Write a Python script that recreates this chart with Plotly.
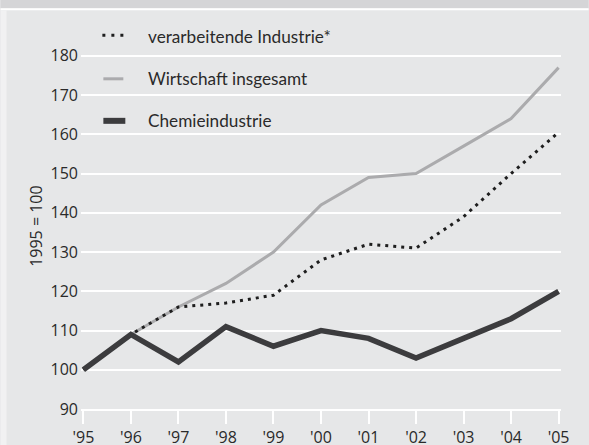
import plotly.graph_objects as go

years = [1995, 1996, 1997, 1998, 1999, 2000, 2001, 2002, 2003, 2004, 2005]
tick_labels = ["'95", "'96", "'97", "'98", "'99", "'00", "'01", "'02", "'03", "'04", "'05"]
y_ticks = [90, 100, 110, 120, 130, 140, 150, 160, 170, 180]

name_verarb = "verarbeitende Industrie*"
name_wirt = "Wirtschaft insgesamt"
name_chemie = "Chemieindustrie"

verarbeitende = [100, 109, 116, 117, 119, 128, 132, 131, 139, 150, 160.5]
wirtschaft = [100, 109, 116, 122, 130, 142, 149, 150, 157, 164, 177]
chemie = [100, 109, 102, 111, 106, 110, 108, 103, 108, 113, 120]

W, H = 589, 445
L, R_edge = 80.6, 561.4
T, B = 48.2, 409.0
PW, PH = R_edge - L, B - T


def px(x):
    return (x - L) / PW


def py(y):
    return (B - y) / PH


fig = go.Figure()
fig.add_trace(go.Scatter(x=years, y=wirtschaft, mode="lines", name=name_wirt,
                         line=dict(color="#ababad", width=3), showlegend=False))
fig.add_trace(go.Scatter(x=years, y=verarbeitende, mode="lines", name=name_verarb,
                         line=dict(color="#1e1e1e", width=3, dash="3px,5px"), showlegend=False))
fig.add_trace(go.Scatter(x=years, y=chemie, mode="lines", name=name_chemie,
                         line=dict(color="#3c3c3e", width=5.5), showlegend=False))

shapes = [
    dict(type="rect", xref="paper", yref="paper", x0=px(0), x1=px(W), y0=py(8.5), y1=py(0),
         fillcolor="#d5d5d7", line=dict(width=0), layer="below"),
    dict(type="rect", xref="paper", yref="paper", x0=px(0), x1=px(W), y0=py(10.5), y1=py(8.5),
         fillcolor="#ffffff", line=dict(width=0), layer="below"),
    dict(type="rect", xref="paper", yref="paper", x0=px(0), x1=px(6), y0=py(H), y1=py(10.5),
         fillcolor="#f1f1f2", line=dict(width=0), layer="below"),
    # legend symbols
    dict(type="line", xref="paper", yref="paper", x0=px(102), x1=px(124), y0=py(35.5), y1=py(35.5),
         line=dict(color="#1e1e1e", width=3, dash="3px,6px")),
    dict(type="line", xref="paper", yref="paper", x0=px(103), x1=px(123), y0=py(79), y1=py(79),
         line=dict(color="#ababad", width=3)),
    dict(type="line", xref="paper", yref="paper", x0=px(103), x1=px(125), y0=py(121), y1=py(121),
         line=dict(color="#3c3c3e", width=6)),
]

font_fam = "Lato, 'Open Sans', sans-serif"
annotations = []
for name, yc in [(name_verarb, 37), (name_wirt, 79), (name_chemie, 121)]:
    annotations.append(dict(text=name, xref="paper", yref="paper", x=px(146), y=py(yc),
                            xanchor="left", yanchor="middle", showarrow=False,
                            font=dict(family=font_fam, size=17.2, color="#2a2a2a")))
annotations.append(dict(text="1995 = 100", xref="paper", yref="paper", x=px(35.5), y=py(226),
                        xanchor="center", yanchor="middle", textangle=-90, showarrow=False,
                        font=dict(family="'Open Sans', sans-serif", size=16, color="#2a2a2a")))

fig.update_layout(
    width=W, height=H,
    margin=dict(l=L, r=W - R_edge, t=T, b=H - B, pad=0, autoexpand=False),
    paper_bgcolor="#e6e7e8", plot_bgcolor="#e6e7e8",
    shapes=shapes, annotations=annotations,
    font=dict(family="'Open Sans', sans-serif", size=16, color="#2a2a2a"),
    xaxis=dict(range=[1994.95, 2005.05], tickvals=years, ticktext=tick_labels,
               showgrid=False, zeroline=False, showline=True, linecolor="#ffffff", linewidth=1.5,
               ticks="outside", ticklen=13, tickwidth=1.5, tickcolor="#ffffff",
               ticklabelstandoff=0, automargin=False, fixedrange=True),
    yaxis=dict(range=[90, 182], tickvals=y_ticks, showgrid=True, gridcolor="#ffffff",
               gridwidth=1.5, zeroline=False, showline=False, ticks="", ticklabelstandoff=2,
               automargin=False, fixedrange=True),
)

fig.write_html("out.html", config={"displayModeBar": False},
               post_script="document.body.style.margin='0';document.body.style.overflow='hidden';")
